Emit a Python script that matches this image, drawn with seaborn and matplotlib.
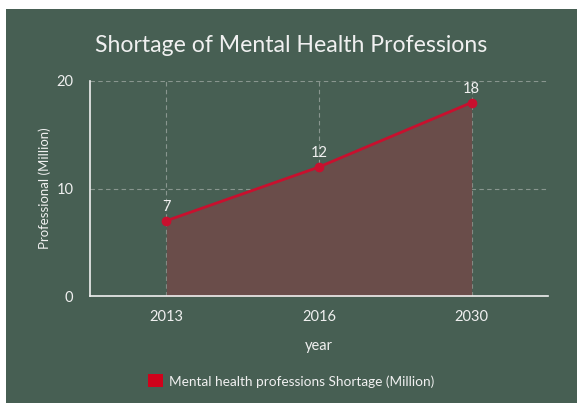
import matplotlib
matplotlib.use("Agg")
import matplotlib.pyplot as plt
import matplotlib.patches as mpatches
import seaborn as sns
import pandas as pd
import numpy as np

years = ["2013", "2016", "2030"]
shortage = [7, 12, 18]
series_name = "Mental health professions Shortage (Million)"

BG = "#475f53"
RED = "#c8102e"
FILL = "#6a4d4a"
TXT = "#f0f0f0"
GRID = "#9aa59f"

sns.set_theme(style="white")
plt.rcParams['font.family'] = ['Lato', 'DejaVu Sans']

fig = plt.figure(figsize=(5.79, 4.03), dpi=100, facecolor="white")
fig.patches.append(mpatches.Rectangle((6/579, 0), 1 - 8/579, 1 - 9/403,
                                      transform=fig.transFigure, facecolor=BG,
                                      edgecolor="none", zorder=-10))
ax = fig.add_axes([90/579, 1 - 296/403, (548 - 90)/579, (296 - 81)/403])
ax.set_facecolor(BG)

df = pd.DataFrame({"year": years, "value": shortage})
xpos = np.arange(len(years))
ax.fill_between(xpos, 0, df["value"], color=FILL, zorder=1, linewidth=0)
sns.lineplot(data=df, x="year", y="value", ax=ax, color=RED, linewidth=2,
             marker="o", markersize=7, markeredgewidth=0, sort=False, zorder=3)

for i, v in enumerate(shortage):
    ax.annotate(str(v), (i, v), xytext=(0, 5), textcoords="offset points",
                ha="center", va="bottom", color=TXT, fontsize=10.5)

ax.set_xlim(-0.5, 2.5)
ax.set_ylim(0, 20)
ax.set_yticks([0, 10, 20])
ax.set_xticks(xpos)
ax.set_xticklabels(years)

ax.grid(True, axis="both", color=GRID, linestyle=(0, (4, 3)), linewidth=0.8, alpha=0.8)
ax.set_axisbelow(True)
for s in ["top", "right"]:
    ax.spines[s].set_visible(False)
for s in ["left", "bottom"]:
    ax.spines[s].set_color("#f0f0f0")
    ax.spines[s].set_linewidth(1.2)

ax.tick_params(axis="both", colors=TXT, labelsize=10.5, length=0, pad=10)
ax.tick_params(axis="y", pad=12)
ax.set_xlabel("year", color=TXT, fontsize=10.5, labelpad=11)
ax.set_ylabel("Professional (Million)", color=TXT, fontsize=9.5, labelpad=4)

fig.text(291/579, 1 - 46/403, "Shortage of Mental Health Professions",
         ha="center", va="center", color=TXT, fontsize=16.6)

handle = mpatches.Patch(facecolor="#d0021b", edgecolor="none", label=series_name)
fig.legend(handles=[handle], loc="center", bbox_to_anchor=(291/579, 1 - 381/403),
           frameon=False, fontsize=9.8, labelcolor=TXT, handlelength=1.1,
           handleheight=1.1, handletextpad=0.4)

fig.savefig("out.png", dpi=100, facecolor="white")
